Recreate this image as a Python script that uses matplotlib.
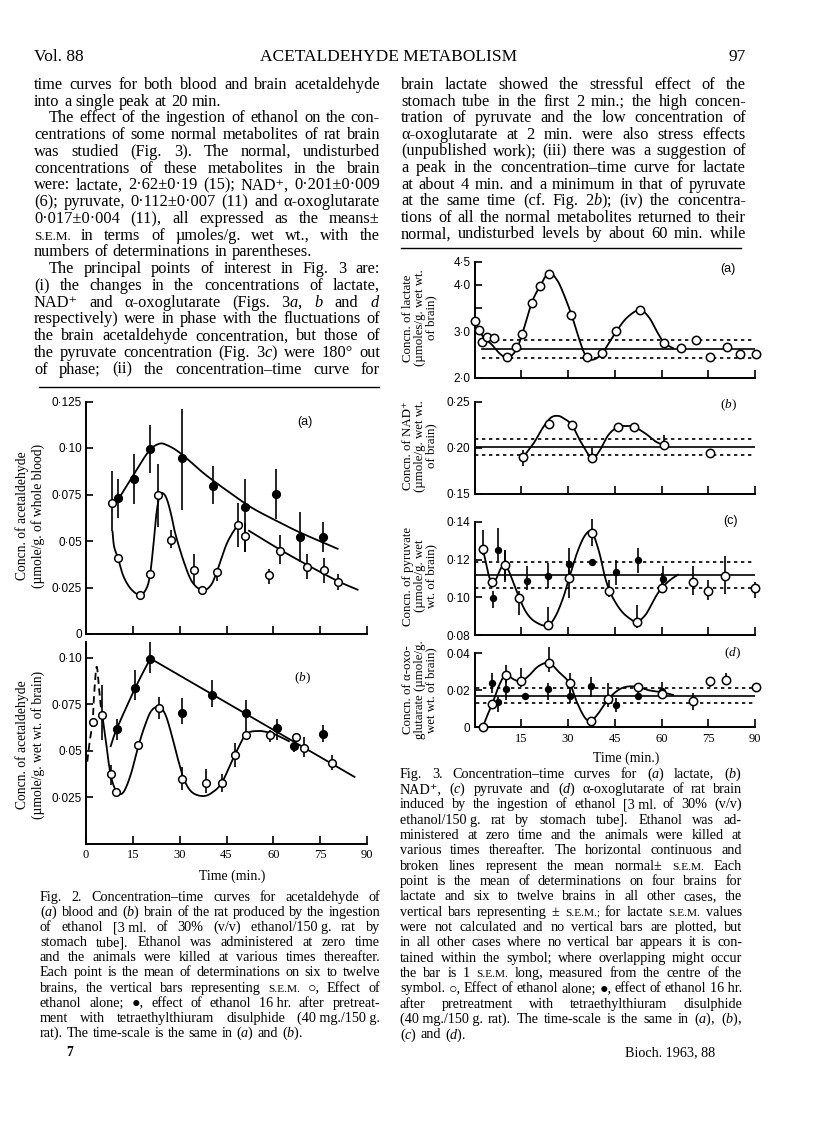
import matplotlib.pyplot as plt
import numpy as np

W, H = 816, 1138
plt.rcParams['font.family'] = ['Liberation Serif', 'DejaVu Serif']
plt.rcParams['mathtext.fontset'] = 'custom'
plt.rcParams['mathtext.rm'] = 'Liberation Serif'
plt.rcParams['mathtext.it'] = 'Liberation Serif:italic'
SANS = ['Liberation Sans', 'DejaVu Sans']
NB = '\u00a0'

# ---------------- Fig. 2 (a) blood acetaldehyde ----------------
a2_open_t = [8.3, 10.2, 17.4, 20.6, 23.0, 27.2, 34.5, 37.3, 41.8, 48.8, 50.9, 58.6, 62.2, 70.7, 76.3, 80.6]
a2_open_v = [0.0704, 0.0408, 0.0208, 0.0322, 0.0745, 0.0507, 0.0344, 0.0236, 0.0333, 0.0584, 0.0527, 0.0319, 0.0448, 0.0362, 0.0342, 0.0279]
a2_open_hi = [0.0874, np.nan, np.nan, np.nan, 0.0915, 0.0557, 0.0432, np.nan, 0.0355, 0.0706, 0.0596, 0.0351, 0.0530, 0.0432, 0.0410, 0.0324]
a2_open_lo = [0.0552, np.nan, np.nan, np.nan, 0.0575, 0.0462, 0.0261, np.nan, 0.0287, 0.0467, 0.0441, 0.0270, 0.0378, 0.0294, 0.0274, 0.0235]
a2_fill_t = [10.4, 15.4, 20.6, 30.8, 40.7, 50.9, 60.9, 68.6, 76.0]
a2_fill_v = [0.0731, 0.0831, 0.0996, 0.0947, 0.0797, 0.0682, 0.0752, 0.0521, 0.0521]
a2_fill_hi = [0.0835, 0.0969, 0.1121, 0.1207, 0.0903, 0.0831, 0.0888, 0.0655, 0.0602]
a2_fill_lo = [0.0623, 0.0700, 0.0867, 0.0668, 0.0700, 0.0441, 0.0620, 0.0387, 0.0441]
# hand-drawn curves (knots)
a2_fillcurve_t = [10.2, 15, 20, 23.3, 26, 30.4, 38, 45.8, 53, 60.8, 68, 75.6, 80.6]
a2_fillcurve_v = [0.072, 0.085, 0.098, 0.1022, 0.1015, 0.097, 0.086, 0.0763, 0.068, 0.061, 0.055, 0.0494, 0.0458]
a2_curve1_t = [8.5, 9.0, 10.2, 12, 14.5, 17.4, 19.5, 20.6, 21.6, 22.5, 23.6, 24.8, 26, 27.3, 28.6, 31.3, 34, 37.3, 39.9, 41.8, 45.2, 48.8, 49.8]
a2_curve1_v = [0.055, 0.047, 0.041, 0.031, 0.024, 0.021, 0.025, 0.033, 0.048, 0.064, 0.0745, 0.0755, 0.072, 0.064, 0.054, 0.039, 0.028, 0.0235, 0.026, 0.033, 0.049, 0.059, 0.0595]
a2_curve2_t = [52.2, 62, 71, 80.6, 87]
a2_curve2_v = [0.0555, 0.0455, 0.037, 0.0285, 0.0238]

# ---------------- Fig. 2 (b) brain acetaldehyde ----------------
b2_open_t = [2.1, 5.0, 7.9, 9.6, 16.8, 23.5, 30.9, 38.4, 43.6, 47.6, 51.2, 58.9, 67.2, 69.9, 78.7]
b2_open_v = [0.0654, 0.0693, 0.0376, 0.0276, 0.0532, 0.0729, 0.0349, 0.0326, 0.0326, 0.0475, 0.0586, 0.0586, 0.0573, 0.0516, 0.0434]
b2_open_hi = [np.nan, 0.0851, 0.0421, np.nan, np.nan, 0.0788, 0.0412, 0.0403, 0.0376, 0.0538, np.nan, 0.0609, np.nan, 0.0573, 0.0475]
b2_open_lo = [np.nan, 0.0555, 0.0314, np.nan, np.nan, 0.0672, 0.0287, 0.0269, 0.0278, 0.0412, np.nan, 0.0547, np.nan, 0.0466, 0.0394]
b2_fill_t = [9.9, 15.8, 20.6, 30.8, 40.4, 51.2, 61.1, 66.7, 75.8]
b2_fill_v = [0.0613, 0.0837, 0.0990, 0.0702, 0.0797, 0.0699, 0.0622, 0.0523, 0.0588]
b2_fill_hi = [0.0672, 0.0932, 0.1085, 0.0780, 0.0878, 0.0771, 0.0672, 0.0564, 0.0636]
b2_fill_lo = [0.0556, 0.0771, 0.0917, 0.0645, 0.0735, 0.0582, 0.0556, 0.0493, 0.0547]
b2_rise_t = [7.9, 9.9, 15.8, 20.6]
b2_rise_v = [0.0523, 0.0618, 0.0837, 0.0995]
b2_fall_t = [20.6, 86]
b2_fall_v = [0.0995, 0.0358]
b2_curve_t = [5.3, 6.3, 7.3, 8.3, 9.6, 11, 12.5, 14.5, 16.8, 19, 21, 23.5, 25.5, 27.5, 29.5, 31.5, 34, 37.5, 40.5, 43.6, 47.6, 51.2, 55, 59, 62, 65]
b2_curve_v = [0.068, 0.056, 0.043, 0.034, 0.0285, 0.0265, 0.029, 0.038, 0.0525, 0.064, 0.0715, 0.0735, 0.069, 0.058, 0.045, 0.034, 0.0275, 0.0255, 0.0275, 0.033, 0.0475, 0.0585, 0.0605, 0.0595, 0.0575, 0.055]
b2_dash_t = [0.4, 1.2, 2.1, 2.6, 3.2, 3.6, 4.2, 4.8, 5.2]
b2_dash_v = [0.044, 0.055, 0.0654, 0.080, 0.093, 0.094, 0.083, 0.073, 0.069]

# ---------------- Fig. 3 (a) lactate ----------------
lac_t = [0, 1.6, 2.5, 4.1, 6.3, 10.5, 13.3, 15.3, 18.4, 21.1, 23.8, 31.1, 36.1, 40.8, 45.5, 53.0, 60.8, 66.3, 71.0, 75.7, 80.9, 85.2, 90.3]
lac_v = [3.23, 3.03, 2.77, 2.87, 2.86, 2.44, 2.67, 2.94, 3.62, 3.97, 4.24, 3.36, 2.46, 2.54, 3.01, 3.45, 2.75, 2.64, 2.81, 2.46, 2.67, 2.51, 2.51]
lac_curve_t = [0, 1.6, 3, 5.5, 8, 10.4, 12.5, 14, 15.3, 18.4, 21.1, 23.9, 26.5, 28.5, 31.1, 33.5, 35.5, 37.6, 40.8, 45.5, 49, 53, 56, 58.5, 60.8, 63.7]
lac_curve_v = [3.23, 3.03, 2.86, 2.72, 2.53, 2.43, 2.52, 2.7, 2.94, 3.62, 3.98, 4.26, 4.1, 3.82, 3.36, 2.85, 2.5, 2.39, 2.52, 3.0, 3.3, 3.46, 3.3, 3.0, 2.76, 2.64]

# ---------------- Fig. 3 (b) NAD+ ----------------
nad_t = [15.6, 23.9, 31.2, 37.8, 46.1, 51.2, 60.8, 75.5]
nad_v = [0.1896, 0.2255, 0.2248, 0.1888, 0.2227, 0.2227, 0.2032, 0.1946]
nad_hi = [0.1978, np.nan, np.nan, 0.1996, np.nan, np.nan, 0.2140, np.nan]
nad_lo = [0.1799, np.nan, np.nan, 0.1835, np.nan, np.nan, 0.1978, np.nan]
nad_curve_t = [15.6, 19, 22, 24.5, 26.7, 28.5, 31.2, 34, 37.6, 40, 43, 46.1, 48.5, 51.2, 55, 58, 60.8]
nad_curve_v = [0.1896, 0.205, 0.222, 0.2325, 0.2345, 0.232, 0.2248, 0.207, 0.189, 0.196, 0.214, 0.2227, 0.2235, 0.2227, 0.215, 0.207, 0.2025]

# ---------------- Fig. 3 (c) pyruvate ----------------
pyr_open_t = [2.7, 5.7, 9.9, 14.4, 23.7, 30.4, 37.7, 43.2, 52.2, 60.2, 70.0, 75.0, 80.4, 90.1]
pyr_open_v = [0.1256, 0.1080, 0.1173, 0.0995, 0.0853, 0.1105, 0.1340, 0.1036, 0.0871, 0.1052, 0.1084, 0.1031, 0.1111, 0.1052]
pyr_open_hi = [0.1359, np.nan, 0.1253, 0.1031, 0.0951, 0.1199, 0.1418, 0.1093, 0.0960, 0.1128, 0.1164, 0.1093, 0.1217, 0.1084]
pyr_open_lo = [0.1226, np.nan, 0.1084, 0.0906, 0.0836, 0.0995, 0.1270, 0.1004, 0.0836, 0.1022, 0.1013, 0.0986, 0.1017, 0.0995]
pyr_fill_t = [5.9, 7.4, 9.9, 16.9, 23.7, 30.4, 37.7, 45.5, 52.3, 60.4]
pyr_fill_v = [0.0995, 0.1249, 0.1178, 0.1088, 0.1114, 0.1176, 0.1190, 0.1137, 0.1196, 0.1098]
pyr_fill_hi = [0.1031, 0.1368, 0.1253, 0.1164, 0.1182, 0.1262, np.nan, 0.1199, 0.1262, 0.1164]
pyr_fill_lo = [0.0942, 0.1191, 0.1093, 0.1040, 0.1049, 0.1093, np.nan, 0.1066, 0.1128, 0.1066]
pyr_curve_t = [2.7, 3.7, 4.7, 5.7, 7, 8.5, 9.9, 11.5, 14.4, 17, 20, 23.5, 26, 28.5, 30.4, 33, 35.5, 37.7, 40, 42, 44, 47, 50, 52.2, 55, 58, 60.2, 63, 65.3]
pyr_curve_v = [0.1256, 0.118, 0.111, 0.108, 0.110, 0.1155, 0.1172, 0.112, 0.0995, 0.091, 0.0865, 0.085, 0.090, 0.100, 0.1105, 0.124, 0.133, 0.1345, 0.124, 0.110, 0.101, 0.093, 0.0885, 0.0871, 0.091, 0.100, 0.1052, 0.1095, 0.112]

# ---------------- Fig. 3 (d) alpha-oxoglutarate ----------------
oxo_open_t = [2.6, 5.7, 10.1, 14.9, 23.9, 30.5, 37.4, 42.9, 52.3, 60.0, 70.1, 75.6, 80.7, 90.4]
oxo_open_v = [0.0, 0.0126, 0.0283, 0.0248, 0.0346, 0.0238, 0.0036, 0.0151, 0.0216, 0.0180, 0.0142, 0.0248, 0.0256, 0.0220]
oxo_open_hi = [np.nan, np.nan, 0.0337, 0.0319, 0.0436, 0.0292, np.nan, 0.0238, np.nan, np.nan, 0.0184, 0.0274, 0.0292, np.nan]
oxo_open_lo = [np.nan, np.nan, 0.0238, 0.0220, 0.0301, 0.0184, np.nan, 0.0112, np.nan, np.nan, 0.0094, 0.0220, 0.0229, np.nan]
oxo_fill_t = [5.7, 7.6, 10.1, 16.2, 23.7, 30.5, 37.4, 45.5, 52.5, 60.0]
oxo_fill_v = [0.0238, 0.0137, 0.0207, 0.0171, 0.0207, 0.0169, 0.0225, 0.0119, 0.0169, 0.0198]
oxo_fill_hi = [0.0295, 0.0166, 0.0256, np.nan, 0.0238, 0.0202, 0.0274, 0.0157, 0.0220, 0.0247]
oxo_fill_lo = [0.0184, 0.0085, 0.0148, np.nan, 0.0148, 0.0130, 0.0166, 0.0085, 0.0148, 0.0166]
oxo_curve_t = [2.6, 4, 5.7, 7.5, 9.2, 10.5, 12.5, 14.9, 17.5, 20.5, 23.9, 27, 30.5, 33, 35.5, 37.4, 39.5, 42.9, 46, 49, 52.3, 56, 60, 63.7]
oxo_curve_v = [0.0, 0.006, 0.0126, 0.021, 0.027, 0.0283, 0.026, 0.0248, 0.028, 0.033, 0.0348, 0.030, 0.0238, 0.013, 0.005, 0.0035, 0.007, 0.0151, 0.020, 0.022, 0.0218, 0.020, 0.019, 0.0175]

# normal, undisturbed levels (mean, s.e.m.) from the text
normal_mean = [2.62, 0.201, 0.112, 0.017]
normal_sem = [0.19, 0.009, 0.007, 0.004]
normal_start = [2.5, 0.0, 0.0, 0.5]

time_ticks = [15, 30, 45, 60, 75, 90]
time_labels = ['15', '30', '45', '60', '75', '90']

# ---------------- page text ----------------
header = ['Vol. 88', 'ACETALDEHYDE METABOLISM', '97']

left_text = [
    ('time curves for both blood and brain acetaldehyde', 0, True),
    ('into a single peak at 20 min.', 0, False),
    ('The effect of the ingestion of ethanol on the con-', 1, True),
    ('centrations of some normal metabolites of rat brain', 0, True),
    ('was studied (Fig. 3). The normal, undisturbed', 0, True),
    ('concentrations of these metabolites in the brain', 0, True),
    ('were: lactate, 2·62±0·19 (15); NAD⁺, 0·201±0·009', 0, True),
    ('(6); pyruvate, 0·112±0·007 (11) and α-oxoglutarate', 0, True),
    ('0·017±0·004 (11), all expressed as the means±', 0, True),
    ('~S.E.M. in terms of µmoles/g. wet wt., with the', 0, True),
    ('numbers of determinations in parentheses.', 0, False),
    ('The principal points of interest in Fig. 3 are:', 1, True),
    ('(i) the changes in the concentrations of lactate,', 0, True),
    ('NAD⁺ and α-oxoglutarate (Figs. 3$\\mathit{a}$, $\\mathit{b}$ and $\\mathit{d}$', 0, True),
    ('respectively) were in phase with the fluctuations of', 0, True),
    ('the brain acetaldehyde concentration, but those of', 0, True),
    ('the pyruvate concentration (Fig. 3$\\mathit{c}$) were 180° out', 0, True),
    ('of phase; (ii) the concentration–time curve for', 0, True),
]

right_text = [
    ('brain lactate showed the stressful effect of the', 0, True),
    ('stomach tube in the first 2 min.; the high concen-', 0, True),
    ('tration of pyruvate and the low concentration of', 0, True),
    ('α-oxoglutarate at 2 min. were also stress effects', 0, True),
    ('(unpublished work); (iii) there was a suggestion of', 0, True),
    ('a peak in the concentration–time curve for lactate', 0, True),
    ('at about 4 min. and a minimum in that of pyruvate', 0, True),
    ('at the same time (cf. Fig. 2$\\mathit{b}$); (iv) the concentra-', 0, True),
    ('tions of all the normal metabolites returned to their', 0, True),
    ('normal, undisturbed levels by about 60 min. while', 0, True),
]

caption2 = [
    ('Fig. 2. Concentration–time curves for acetaldehyde of', 0, True),
    ('($\\mathit{a}$) blood and ($\\mathit{b}$) brain of the rat produced by the ingestion', 0, True),
    ('of ethanol [3' + NB + 'ml. of 30% (v/v) ethanol/150' + NB + 'g. rat by', 0, True),
    ('stomach tube]. Ethanol was administered at zero time', 0, True),
    ('and the animals were killed at various times thereafter.', 0, True),
    ('Each point is the mean of determinations on six to twelve', 0, True),
    ('brains, the vertical bars representing ~S.E.M. ○, Effect of', 0, True),
    ('ethanol alone; ●, effect of ethanol 16' + NB + 'hr. after pretreat-', 0, True),
    ('ment with tetraethylthiuram disulphide (40' + NB + 'mg./150' + NB + 'g.', 0, True),
    ('rat). The time-scale is the same in ($\\mathit{a}$) and ($\\mathit{b}$).', 0, False),
]

caption3 = [
    ('Fig. 3. Concentration–time curves for ($\\mathit{a}$) lactate, ($\\mathit{b}$)', 0, True),
    ('NAD⁺, ($\\mathit{c}$) pyruvate and ($\\mathit{d}$) α-oxoglutarate of rat brain', 0, True),
    ('induced by the ingestion of ethanol [3' + NB + 'ml. of 30% (v/v)', 0, True),
    ('ethanol/150' + NB + 'g. rat by stomach tube]. Ethanol was ad-', 0, True),
    ('ministered at zero time and the animals were killed at', 0, True),
    ('various times thereafter. The horizontal continuous and', 0, True),
    ('broken lines represent the mean normal± ~S.E.M. Each', 0, True),
    ('point is the mean of determinations on four brains for', 0, True),
    ('lactate and six to twelve brains in all other cases, the', 0, True),
    ('vertical bars representing ± ~S.E.M.; for lactate ~S.E.M. values', 0, True),
    ('were not calculated and no vertical bars are plotted, but', 0, True),
    ('in all other cases where no vertical bar appears it is con-', 0, True),
    ('tained within the symbol; where overlapping might occur', 0, True),
    ('the bar is 1 ~S.E.M. long, measured from the centre of the', 0, True),
    ('symbol. ○, Effect of ethanol alone; ●, effect of ethanol 16' + NB + 'hr.', 0, True),
    ('after pretreatment with tetraethylthiuram disulphide', 0, True),
    ('(40' + NB + 'mg./150' + NB + 'g. rat). The time-scale is the same in ($\\mathit{a}$), ($\\mathit{b}$),', 0, True),
    ('($\\mathit{c}$) and ($\\mathit{d}$).', 0, False),
]

# =====================================================================
fig = plt.figure(figsize=(W / 100, H / 100), dpi=100)
fig.patch.set_facecolor('white')
renderer = fig.canvas.get_renderer()


def ft(x, y, s, **kw):
    return fig.text(x / W, 1 - y / H, s, **kw)


def box(left, top, right, bottom):
    return fig.add_axes([left / W, 1 - bottom / H, (right - left) / W, (bottom - top) / H])


def smooth(tk, vk, n=14):
    # Catmull-Rom pass through the hand-drawn knots
    p = np.column_stack([tk, vk]).astype(float)
    p = np.vstack([2 * p[0] - p[1], p, 2 * p[-1] - p[-2]])
    s = np.linspace(0, 1, n, endpoint=False)[:, None]
    out = []
    for i in range(1, len(p) - 2):
        p0, p1, p2, p3 = p[i - 1], p[i], p[i + 1], p[i + 2]
        out.append(0.5 * (2 * p1 + (p2 - p0) * s + (2 * p0 - 5 * p1 + 4 * p2 - p3) * s ** 2
                          + (3 * p1 - p0 - 3 * p2 + p3) * s ** 3))
    out.append(p[-2][None, :])
    out = np.vstack(out)
    return out[:, 0], out[:, 1]


def curve(ax, tk, vk, **kw):
    x, y = smooth(tk, vk)
    ax.plot(x, y, color='black', lw=1.3, zorder=2, clip_on=False, **kw)


def points(ax, t, v, lo, hi, filled, ms):
    t, v, lo, hi = map(np.asarray, (t, v, lo, hi))
    m = ~np.isnan(lo)
    ax.vlines(t[m], lo[m], hi[m], color='black', lw=1.2, zorder=3, clip_on=False)
    ax.plot(t, v, 'o', ms=ms, mfc='black' if filled else 'white', mec='black',
            mew=1.1, zorder=5, clip_on=False)


def style(ax, ylim, yticks, ylabels, xlabels=None, xticks=time_ticks):
    ax.set_xlim(0, 90)
    ax.set_ylim(*ylim)
    ax.patch.set_alpha(0)
    for s in ['top', 'right']:
        ax.spines[s].set_visible(False)
    for s in ['left', 'bottom']:
        ax.spines[s].set_linewidth(1.4)
    ax.set_xticks(xticks)
    ax.set_xticklabels(xlabels if xlabels else [''] * len(xticks))
    ax.set_yticks(yticks)
    ax.set_yticklabels(ylabels)
    ax.tick_params(axis='x', direction='in', length=6, width=1.2, labelsize=9, pad=4)
    ax.tick_params(axis='y', direction='in', length=5, width=1.2, labelsize=8.5, pad=3,
                   labelfontfamily=SANS)


# ---- Fig. 2a ----
ax = box(86, 401.5, 367, 634)
style(ax, (0, 0.125), [0, 0.025, 0.05, 0.075, 0.10, 0.125], ['0', '0·025', '0·05', '0·075', '0·10', '0·125'])
curve(ax, a2_fillcurve_t, a2_fillcurve_v)
curve(ax, a2_curve1_t, a2_curve1_v)
curve(ax, a2_curve2_t, a2_curve2_v)
points(ax, a2_open_t, a2_open_v, a2_open_lo, a2_open_hi, False, 5.5)
points(ax, a2_fill_t, a2_fill_v, a2_fill_lo, a2_fill_hi, True, 5.5)
ft(305, 422, '(a)', fontsize=9, family=SANS, ha='center', va='center')

# ---- Fig. 2b ----
ax = box(86, 641.7, 367, 843.5)
style(ax, (0, 0.1085), [0.025, 0.05, 0.075, 0.10], ['0·025', '0·05', '0·075', '0·10'],
      xlabels=['0'] + time_labels, xticks=[0] + time_ticks)
curve(ax, b2_rise_t, b2_rise_v)
ax.plot(b2_fall_t, b2_fall_v, color='black', lw=1.3, zorder=2)
curve(ax, b2_curve_t, b2_curve_v)
curve(ax, b2_dash_t, b2_dash_v, dashes=(4, 2.5))
points(ax, b2_open_t, b2_open_v, b2_open_lo, b2_open_hi, False, 5.5)
points(ax, b2_fill_t, b2_fill_v, b2_fill_lo, b2_fill_hi, True, 5.5)
ft(302, 678, '($\\mathit{b}$)', fontsize=9.5, ha='center', va='center')
ft(232, 876, 'Time (min.)', fontsize=10, ha='center', va='center')

ft(30, 516, 'Concn. of acetaldehyde\n(µmole/g. of whole blood)', fontsize=9.8, rotation=90,
   ha='center', va='center', multialignment='center', linespacing=1.15)
ft(30, 745, 'Concn. of acetaldehyde\n(µmole/g. wet wt. of brain)', fontsize=9.8, rotation=90,
   ha='center', va='center', multialignment='center', linespacing=1.15)

# ---- Fig. 3 panels ----
panels = [
    ((261.5, 378), (2.0, 4.5), [2.0, 3.0, 3.5, 4.0, 4.5], ['2·0', '3·0', '', '4·0', '4·5']),
    ((401.5, 494), (0.15, 0.25), [0.15, 0.20, 0.25], ['0·15', '0·20', '0·25']),
    ((522, 635), (0.08, 0.14), [0.08, 0.10, 0.12, 0.14], ['0·08', '0·10', '0·12', '0·14']),
    ((653.3, 727.3), (0, 0.04), [0, 0.02, 0.04], ['0', '0·02', '0·04']),
]
axes3 = []
for i, ((top, bottom), ylim, yt, yl) in enumerate(panels):
    ax = box(474.5, top, 755, bottom)
    style(ax, ylim, yt, yl, xlabels=time_labels if i == 3 else None)
    m, e, s = normal_mean[i], normal_sem[i], normal_start[i]
    ax.plot([s, 90], [m, m], color='black', lw=1.2, zorder=1)
    ax.plot([s, 90], [m + e, m + e], color='black', lw=1.2, dashes=(2, 2.2), zorder=1)
    ax.plot([s, 90], [m - e, m - e], color='black', lw=1.2, dashes=(2, 2.2), zorder=1)
    axes3.append(ax)

ax = axes3[0]
curve(ax, lac_curve_t, lac_curve_v)
ax.plot(lac_t, lac_v, 'o', ms=6, mfc='white', mec='black', mew=1.1, zorder=5, clip_on=False)
ax = axes3[1]
curve(ax, nad_curve_t, nad_curve_v)
points(ax, nad_t, nad_v, nad_lo, nad_hi, False, 6)
ax = axes3[2]
curve(ax, pyr_curve_t, pyr_curve_v)
points(ax, pyr_fill_t, pyr_fill_v, pyr_fill_lo, pyr_fill_hi, True, 4.2)
points(ax, pyr_open_t, pyr_open_v, pyr_open_lo, pyr_open_hi, False, 6)
ax = axes3[3]
curve(ax, oxo_curve_t, oxo_curve_v)
points(ax, oxo_fill_t, oxo_fill_v, oxo_fill_lo, oxo_fill_hi, True, 4.2)
points(ax, oxo_open_t, oxo_open_v, oxo_open_lo, oxo_open_hi, False, 6)

ft(728, 269, '(a)', fontsize=9, family=SANS, ha='center', va='center')
ft(728, 405, '($\\mathit{b}$)', fontsize=9.5, ha='center', va='center')
ft(730, 521, '(c)', fontsize=9, family=SANS, ha='center', va='center')
ft(732, 653, '($\\mathit{d}$)', fontsize=9.5, ha='center', va='center')
ft(626, 758, 'Time (min.)', fontsize=10, ha='center', va='center')

ylab3 = ['Concn. of lactate\n(µmoles/g. wet wt.\nof brain)',
         'Concn. of NAD⁺\n(µmole/g. wet wt.\nof brain)',
         'Concn. of pyruvate\n(µmole/g. wet\nwt. of brain)',
         'Concn. of α-oxo-\nglutarate (µmole/g.\nwet wt. of brain)']
for s, yc in zip(ylab3, [318, 446, 576, 690]):
    ft(420, yc, s, fontsize=9.3, rotation=90, ha='center', va='center',
       multialignment='center', linespacing=0.95)


# ---- page text (justified word by word) ----
def put_lines(lines, x0, x1, y0, step, fs0, indent=15):
    for k, (line, ind, just) in enumerate(lines):
        words = line.split(' ')
        start = x0 + ind * indent
        fs = fs0
        while True:
            arts = []
            for w in words:
                if w.startswith('~'):
                    arts.append(ft(0, 0, w[1:], fontsize=fs * 0.8, va='baseline'))
                else:
                    arts.append(ft(0, 0, w, fontsize=fs, va='baseline'))
            ws = [a.get_window_extent(renderer).width for a in arts]
            if sum(ws) + 2.5 * (len(words) - 1) <= x1 - start or fs < 0.8 * fs0:
                break
            for a in arts:
                a.remove()
            fs *= 0.97
        if just and len(words) > 1:
            gap = (x1 - start - sum(ws)) / (len(words) - 1)
        else:
            gap = 0.27 * fs * 100 / 72
        y = y0 + k * step + 0.3 * fs0 * 100 / 72
        x = start
        for a, w in zip(arts, ws):
            a.set_position((x / W, 1 - y / H))
            x += w + gap


ft(34, 57, header[0], fontsize=12.5, va='center')
ft(389, 57, header[1], fontsize=12.5, ha='center', va='center')
ft(746, 57, header[2], fontsize=12.5, ha='right', va='center')

put_lines(left_text, 34, 380, 84, 16.75, 11.8)
put_lines(right_text, 401, 746, 84, 16.6, 11.8)
put_lines(caption2, 40, 380, 896.7, 15.1, 10.2)
put_lines(caption3, 400, 742, 773.3, 15.35, 10.2)

fig.add_artist(plt.Line2D([401 / W, 741 / W], [1 - 248 / H] * 2, color='black', lw=1.0))
fig.add_artist(plt.Line2D([39 / W, 379 / W], [1 - 387 / H] * 2, color='black', lw=1.0))

ft(70, 1053, '7', fontsize=10, weight='bold', ha='center', va='center')
ft(625, 1053, 'Bioch. 1963, 88', fontsize=10.2, va='center')

fig.savefig('out.png', dpi=100)
